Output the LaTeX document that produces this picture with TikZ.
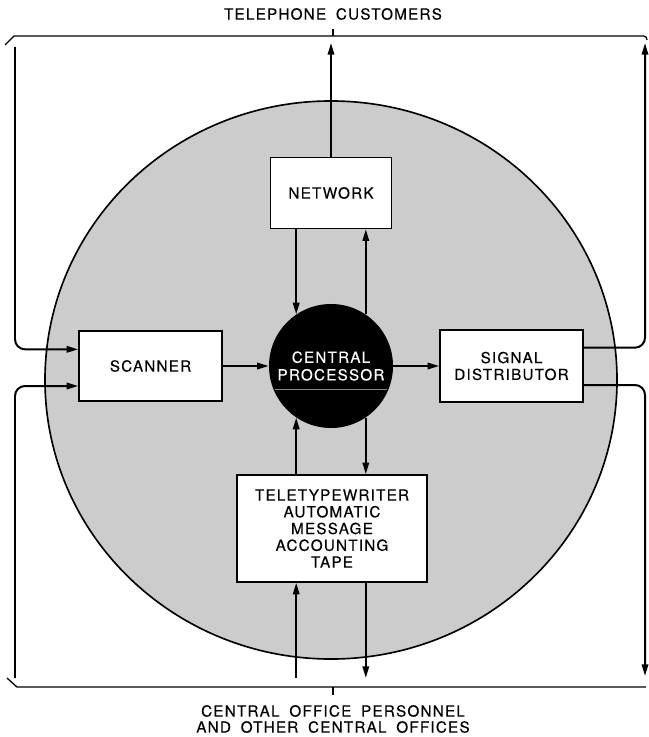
\documentclass[tikz,border=0pt]{standalone}
\usepackage{fontspec}
\setmainfont{TeX Gyre Heros}[LetterSpace=8, FakeBold=0.3, WordSpace=1.8]
\usetikzlibrary{arrows.meta}

\tikzset{
  unitbox/.style={draw, fill=white, line width=1.3pt, align=center, inner sep=0pt,
    font=\fontsize{13}{14.3}\selectfont},
  feed/.style={line width=1.7pt, -{Triangle[length=10pt,width=5.5pt]}},
  wire/.style={line width=1.7pt},
  bracket/.style={line width=1.1pt},
  label/.style={align=center, font=\fontsize{13}{13.7}\selectfont}
}

\begin{document}
\begin{tikzpicture}[x=0.03cm, y=-0.03cm]

    \useasboundingbox (0,0) rectangle (648,737);

    \draw[fill=black!20, line width=1.4pt] (331,380) ellipse [x radius=8.58cm, y radius=8.37cm];

    \node[unitbox, minimum width=3.63cm, minimum height=2.13cm] (network) at (331,193) {NETWORK};
    \node[unitbox, minimum width=4.29cm, minimum height=2.1cm] (scanner) at (150.5,366) {SCANNER};
    \node[unitbox, minimum width=4.29cm, minimum height=2.16cm] (sigdist) at (511.5,366) {SIGNAL\\DISTRIBUTOR};
    \node[unitbox, minimum width=5.7cm, minimum height=3.21cm] (ttyamat) at (332,528.5)
      {TELETYPEWRITER\\AUTOMATIC\\MESSAGE\\ACCOUNTING\\TAPE};
    \node[circle, fill=black, text=white, minimum size=3.72cm, inner sep=0pt, align=center,
      font=\fontsize{13}{15}\selectfont] (cproc) at (331,366) {CENTRAL\\PROCESSOR};
    \draw[black!45, line width=0.5pt] (275,389) -- (387,389);

    \node[label] (customers) at (333,14) {TELEPHONE CUSTOMERS};
    \node[label] (offices) at (333,719) {CENTRAL OFFICE PERSONNEL\\AND OTHER CENTRAL OFFICES};

    \draw[bracket] (5,45) -- (14,36) -- (644,36) to[out=0, in=90] (647,40);
    \draw[bracket] (333,36) -- (333,29);
    \draw[bracket] (7,678) -- (17,687) -- (646,687);
    \draw[bracket] (333,687) -- (333,695);

    \coordinate (custtop) at (331,43);
    \coordinate (custleft) at (15,47);
    \coordinate (custright) at (645,43);
    \coordinate (offleft) at (15,678);
    \coordinate (offright) at (645,676);
    \coordinate (offmid) at (331,678);

    \draw[feed] (network.north) -- (custtop);
    \draw[feed] (cproc.124 |- network.south) -- (cproc.124);
    \draw[feed] (cproc.56) -- (cproc.56 |- network.south);
    \draw[feed] (scanner.east) -- (cproc.west);
    \draw[feed] (cproc.east) -- (sigdist.west);
    \draw[feed] (cproc.-56) -- (cproc.-56 |- ttyamat.north);
    \draw[feed] (cproc.-124 |- ttyamat.north) -- (cproc.-124);
    \draw[feed] (cproc.-124 |- offmid) -- (cproc.-124 |- ttyamat.south);
    \draw[feed] (cproc.-56 |- ttyamat.south) -- (cproc.-56 |- offmid);

    \draw[feed, rounded corners=0.3cm] (custleft) |- ([yshift=0.5cm]scanner.west);
    \draw[feed, rounded corners=0.3cm] (offleft) |- ([yshift=-0.6cm]scanner.west);
    \draw[feed, rounded corners=0.3cm] ([yshift=0.55cm]sigdist.east) -| (custright);
    \draw[feed, rounded corners=0.3cm] ([yshift=-0.57cm]sigdist.east) -| (offright);

\end{tikzpicture}
\end{document}
